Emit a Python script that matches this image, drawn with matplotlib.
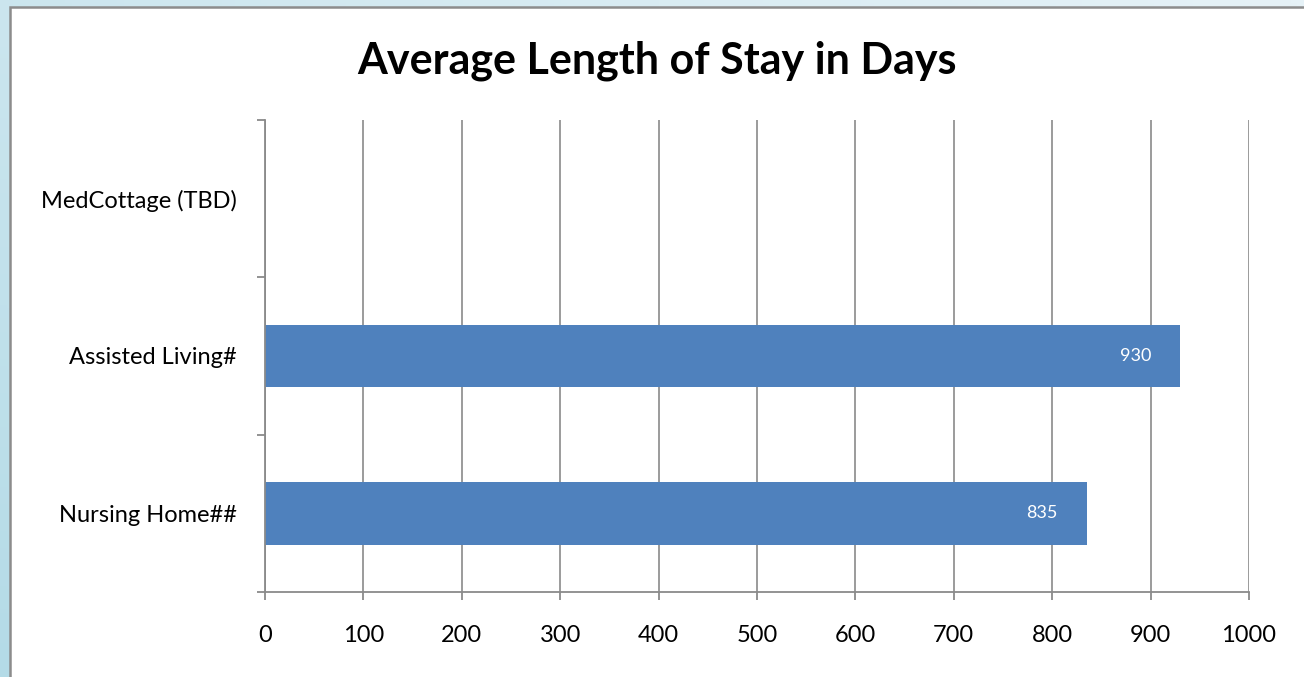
import numpy as np
import matplotlib
matplotlib.use("Agg")
import matplotlib.pyplot as plt
from matplotlib.patches import Rectangle

# data (bottom to top)
categories = ["Nursing Home##", "Assisted Living#", "MedCottage (TBD)"]
values = [835, 930, np.nan]
x_ticks = list(range(0, 1001, 100))

plt.rcParams["font.family"] = ["Lato", "DejaVu Sans"]

W, H = 1304, 677
fig = plt.figure(figsize=(W / 100, H / 100), dpi=100)

# light blue backdrop with a soft gradient on the left
bg = fig.add_axes([0, 0, 1, 1], zorder=-10)
gx = np.linspace(0, 1, 200)
gy = np.linspace(0, 1, 200)
GX, GY = np.meshgrid(gx, gy)
grad = np.clip(1 - GY * 0.9, 0, 1) * 0.5 + GX * 0.5
bg.imshow(grad, cmap=matplotlib.colors.LinearSegmentedColormap.from_list(
    "bgblue", ["#b4dbe7", "#e6f2f7"]), aspect="auto", extent=[0, 1, 0, 1])
bg.set_axis_off()

# white chart area with a grey frame
fig.patches.append(Rectangle((10 / W, -0.01), 1.01, 1 - 7 / H + 0.01,
                             transform=fig.transFigure, facecolor="white",
                             edgecolor="#8c8c8c", lw=1.8, zorder=-5))

ax = fig.add_axes([265 / W, 1 - 592 / H, (1249 - 265) / W, (592 - 120) / H])
ax.set_facecolor("none")

grey = "#8a8a8a"
pos = np.arange(len(categories))
bars = ax.barh(pos, values, height=0.4, color="#4f81bd", zorder=3)

for p, v in zip(pos, values):
    if np.isnan(v):
        continue
    ax.annotate(f"{v:.0f}", xy=(v, p), xytext=(-29, 0), textcoords="offset pixels",
                ha="right", va="center", color="white", fontsize=13, zorder=4)

ax.set_xlim(0, 1000)
ax.set_ylim(-0.5, len(categories) - 0.5)
ax.set_xticks(x_ticks)
ax.set_xticklabels([str(t) for t in x_ticks], fontsize=17)
ax.set_yticks(pos)
ax.set_yticklabels(categories, fontsize=17)
ax.set_yticks(np.arange(-0.5, len(categories)), minor=True)

ax.tick_params(axis="x", length=6, width=1.3, color=grey, pad=18)
ax.tick_params(axis="y", which="major", length=0, pad=20)
ax.tick_params(axis="y", which="minor", length=6, width=1.3, color=grey)

ax.grid(axis="x", color=grey, lw=1.2, zorder=1)
for s in ["top", "right"]:
    ax.spines[s].set_visible(False)
for s in ["left", "bottom"]:
    ax.spines[s].set_color(grey)
    ax.spines[s].set_linewidth(1.3)
    ax.spines[s].set_zorder(5)

fig.text(657 / W, 1 - 61 / H, "Average Length of Stay in Days", ha="center", va="center",
         fontsize=31, fontweight="bold")

fig.savefig("out.png", dpi=100)
